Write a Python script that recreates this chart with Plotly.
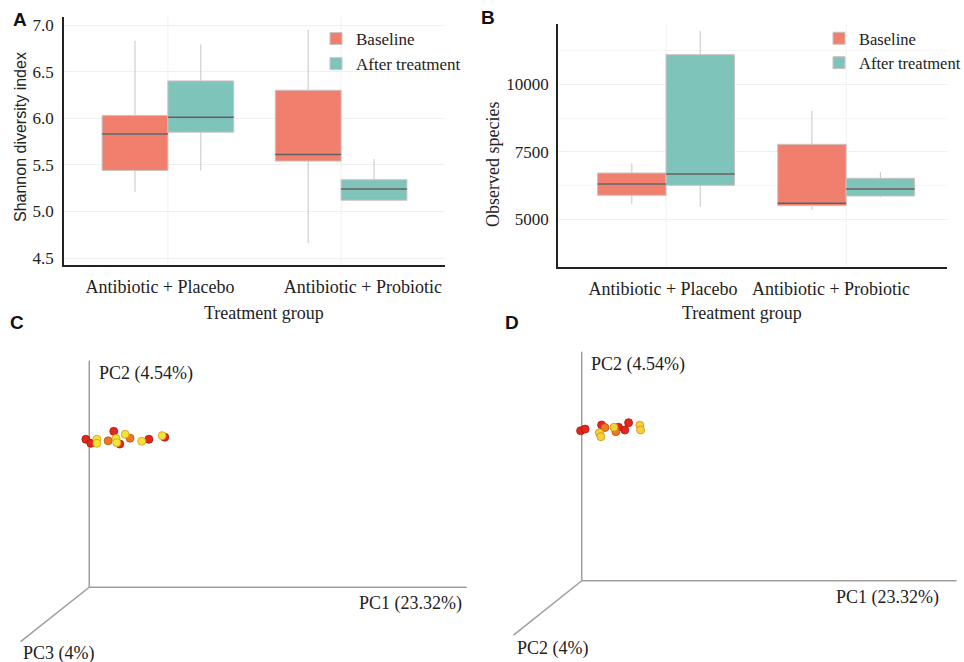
import plotly.graph_objects as go

W, H = 964, 662

# ---------------- data ----------------
groups = ["Antibiotic + Placebo", "Antibiotic + Probiotic"]
series = ["Baseline", "After treatment"]

# Panel A: Shannon diversity index (box statistics per group)
shannon_base_lo = [5.21, 4.66]
shannon_base_q1 = [5.44, 5.54]
shannon_base_med = [5.83, 5.61]
shannon_base_q3 = [6.03, 6.30]
shannon_base_hi = [6.83, 6.95]
shannon_after_lo = [5.44, 5.12]
shannon_after_q1 = [5.85, 5.12]
shannon_after_med = [6.01, 5.24]
shannon_after_q3 = [6.40, 5.34]
shannon_after_hi = [6.79, 5.56]

# Panel B: Observed species
observed_base_lo = [5567, 5344]
observed_base_q1 = [5889, 5504]
observed_base_med = [6307, 5593]
observed_base_q3 = [6715, 7778]
observed_base_hi = [7074, 9011]
observed_after_lo = [5467, 5815]
observed_after_q1 = [6259, 5863]
observed_after_med = [6678, 6122]
observed_after_q3 = [11096, 6519]
observed_after_hi = [11974, 6752]

shannon_ticks = [4.5, 5.0, 5.5, 6.0, 6.5, 7.0]
observed_ticks = [5000, 7500, 10000]

# Panel C: PCoA projection (PC1 vs PC2, scaled to axis length)
c_red_pc1 = [-0.009, 0.004, 0.065, 0.081, 0.158, 0.200]
c_red_pc2 = [0.653, 0.635, 0.688, 0.632, 0.653, 0.662]
c_orange_pc1 = [0.050, 0.108]
c_orange_pc2 = [0.646, 0.658]
c_yellow_pc1 = [0.020, 0.020, 0.071, 0.073, 0.095, 0.139, 0.193]
c_yellow_pc2 = [0.653, 0.635, 0.656, 0.638, 0.675, 0.644, 0.669]

# Panel D
d_red_pc1 = [-0.003, 0.009, 0.053, 0.098, 0.115, 0.125]
d_red_pc2 = [0.655, 0.662, 0.680, 0.670, 0.658, 0.690]
d_orange_pc1 = [0.062, 0.091]
d_orange_pc2 = [0.669, 0.651]
d_yellow_pc1 = [0.047, 0.051, 0.086, 0.155, 0.157]
d_yellow_pc2 = [0.646, 0.629, 0.670, 0.679, 0.658]

c_axis_labels = ["PC1 (23.32%)", "PC2 (4.54%)", "PC3 (4%)"]
d_axis_labels = ["PC1 (23.32%)", "PC2 (4.54%)", "PC2 (4%)"]

# ---------------- style ----------------
SERIF = "Liberation Serif"
SANS = "Liberation Sans"
COL_BASE = "#F07F6E"
COL_AFTER = "#7EC4BA"
WHISK = "#cbc3c1"
MED = "#5f5f5f"
GRID = "#f0f0f0"
AXC = "#222222"
PCLINE = "#a39d99"


def px(x):
    return x / W


def py(y):
    return 1 - y / H


fig = go.Figure()
cat_x = list(range(len(groups)))
BOXW = 0.38
offsets = [-BOXW / 2, BOXW / 2]

box_sets = [
    ("x", "y", "legend", [
        (series[0], COL_BASE, shannon_base_lo, shannon_base_q1, shannon_base_med, shannon_base_q3, shannon_base_hi),
        (series[1], COL_AFTER, shannon_after_lo, shannon_after_q1, shannon_after_med, shannon_after_q3, shannon_after_hi),
    ]),
    ("x2", "y2", "legend2", [
        (series[0], COL_BASE, observed_base_lo, observed_base_q1, observed_base_med, observed_base_q3, observed_base_hi),
        (series[1], COL_AFTER, observed_after_lo, observed_after_q1, observed_after_med, observed_after_q3, observed_after_hi),
    ]),
]

shapes = []
for xa, ya, leg, sets in box_sets:
    for k, (name, col, lo, q1, med, q3, hi) in enumerate(sets):
        xs = [i + offsets[k] for i in cat_x]
        fig.add_trace(go.Box(
            name=name, x=xs, q1=q1, median=med, q3=q3,
            lowerfence=lo, upperfence=hi, width=BOXW,
            fillcolor=col, line=dict(color=WHISK, width=1),
            whiskerwidth=0, boxpoints=False,
            xaxis=xa, yaxis=ya, legend=leg,
        ))
        for x, m in zip(xs, med):
            shapes.append(dict(type="line", xref=xa, yref=ya,
                               x0=x - BOXW / 2, x1=x + BOXW / 2, y0=m, y1=m,
                               line=dict(color=MED, width=1.6)))
    # vertical faint gridlines at category centres
    for i in cat_x:
        shapes.append(dict(type="line", xref=xa, yref=f"{ya} domain",
                           x0=i, x1=i, y0=0, y1=1,
                           line=dict(color=GRID, width=1), layer="below"))

# PCoA scatter panels
pc_sets = [
    ("x3", "y3", [("#e3271d", "#a8150f", c_red_pc1, c_red_pc2),
                  ("#f07820", "#b8500c", c_orange_pc1, c_orange_pc2),
                  ("#f3e23a", "#d69a12", c_yellow_pc1, c_yellow_pc2)]),
    ("x4", "y4", [("#e3271d", "#a8150f", d_red_pc1, d_red_pc2),
                  ("#f07820", "#b8500c", d_orange_pc1, d_orange_pc2),
                  ("#f3d23a", "#d68a12", d_yellow_pc1, d_yellow_pc2)]),
]
pc3_end = {"x3": (-0.182, -0.240), "x4": (-0.182, -0.237)}
for xa, ya, sets in pc_sets:
    ex, ey = pc3_end[xa]
    for (x0, y0, x1, y1) in [(0, 0, 1, 0), (0, 0, 0, 1), (0, 0, ex, ey)]:
        shapes.append(dict(type="line", xref=xa, yref=ya, x0=x0, y0=y0, x1=x1, y1=y1,
                           line=dict(color=PCLINE, width=1.5), layer="below"))
    for col, edge, xs, ys in sets:
        fig.add_trace(go.Scatter(
            x=xs, y=ys, mode="markers", xaxis=xa, yaxis=ya, showlegend=False,
            marker=dict(size=8, color=col, line=dict(color=edge, width=0.8)),
        ))

ytick_font = dict(family=SERIF, size=17, color="#222")
xtick_font = dict(family=SERIF, size=18, color="#222")
hidden = dict(visible=False, automargin=False, showgrid=False, zeroline=False)

fig.update_layout(
    width=W, height=H, autosize=False,
    margin=dict(l=0, r=0, t=0, b=0, autoexpand=False),
    paper_bgcolor="white", plot_bgcolor="white",
    boxmode="overlay",
    shapes=shapes,
    xaxis=dict(domain=[px(64), px(445)], range=[-0.6, 1.6], anchor="y", automargin=False,
               tickvals=[-0.046, 1.126], ticktext=groups, tickfont=xtick_font,
               showgrid=False, zeroline=False, showline=True, linecolor=AXC, linewidth=1.5,
               ticks="", ticklabelstandoff=5),
    yaxis=dict(domain=[py(265), py(16.7)], range=[4.425, 7.089], anchor="x", automargin=False,
               tickvals=shannon_ticks, tickformat=".1f", tickfont=ytick_font,
               showgrid=True, gridcolor=GRID, zeroline=False,
               showline=True, linecolor=AXC, linewidth=1.5, ticks="", ticklabelstandoff=5),
    xaxis2=dict(domain=[px(558), px(947)], range=[-0.6, 1.56], anchor="y2", automargin=False,
                tickvals=[-0.017, 0.916], ticktext=groups, tickfont=xtick_font,
                showgrid=False, zeroline=False, showline=True, linecolor=AXC, linewidth=1.5,
                ticks="", ticklabelstandoff=5),
    yaxis2=dict(domain=[py(266.7), py(24.3)], range=[3244, 12222], anchor="x2", automargin=False,
                tickvals=observed_ticks, tickformat="d", tickfont=ytick_font,
                showgrid=True, gridcolor=GRID, zeroline=False,
                minor=dict(tickvals=[6250, 8750, 11250], showgrid=True, gridcolor="#f6f6f6"),
                showline=True, linecolor=AXC, linewidth=1.5, ticks="", ticklabelstandoff=4),
    xaxis3=dict(domain=[px(10), px(475)], range=[-0.210, 1.022], anchor="y3", **hidden),
    yaxis3=dict(domain=[py(655), py(340)], range=[-0.299, 1.091], anchor="x3", **hidden),
    xaxis4=dict(domain=[px(500), px(960)], range=[-0.218, 1.009], anchor="y4", **hidden),
    yaxis4=dict(domain=[py(655), py(340)], range=[-0.324, 1.051], anchor="x4", **hidden),
    legend=dict(x=px(316), y=py(21), xanchor="left", yanchor="top",
                font=dict(family=SERIF, size=17, color="#222"),
                bgcolor="rgba(0,0,0,0)", itemwidth=30),
    legend2=dict(x=px(819), y=py(21), xanchor="left", yanchor="top",
                 font=dict(family=SERIF, size=16.5, color="#222"),
                 bgcolor="rgba(0,0,0,0)", itemwidth=30),
    showlegend=True,
)

ann = []


def add_text(text, x, y, font, xanchor="center", angle=0):
    ann.append(dict(text=text, x=px(x), y=py(y), xref="paper", yref="paper",
                    xanchor=xanchor, yanchor="middle", showarrow=False,
                    textangle=angle, font=font))


lab_font = dict(family=SANS, size=19, color="#111")
add_text("<b>A</b>", 20, 19, lab_font)
add_text("<b>B</b>", 488, 18, lab_font)
add_text("<b>C</b>", 17, 322, lab_font)
add_text("<b>D</b>", 512, 322, lab_font)

title_font = dict(family=SERIF, size=18, color="#222")
add_text("Treatment group", 264, 313, title_font)
add_text("Treatment group", 742, 313, title_font)
add_text("Shannon diversity index", 20, 137, dict(family=SANS, size=16, color="#222"), angle=-90)
add_text("Observed species", 493, 164, title_font, angle=-90)

pc_font = dict(family=SERIF, size=18, color="#222")
add_text(c_axis_labels[1], 97, 373, pc_font, xanchor="left")
add_text(c_axis_labels[0], 410, 603, pc_font)
add_text(c_axis_labels[2], 59, 653, pc_font)
add_text(d_axis_labels[1], 589, 364, pc_font, xanchor="left")
add_text(d_axis_labels[0], 887, 597, pc_font)
add_text(d_axis_labels[2], 553, 648, pc_font)

fig.update_layout(annotations=ann)

fig.write_html("out.html", config={"displayModeBar": False},
               post_script="document.body.style.margin='0';document.body.style.overflow='hidden';")
